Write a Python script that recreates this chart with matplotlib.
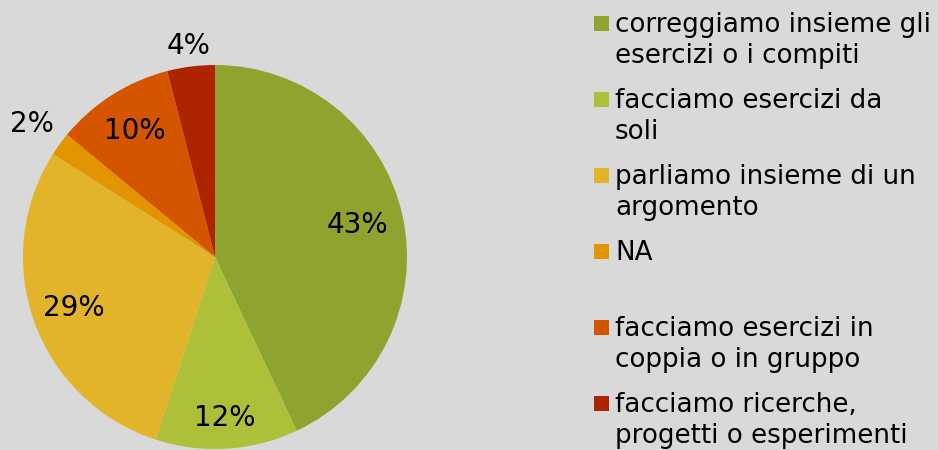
import numpy as np
import matplotlib.pyplot as plt
from matplotlib.patches import Rectangle

labels = ['correggiamo insieme gli\nesercizi o i compiti',
          'facciamo esercizi da\nsoli',
          'parliamo insieme di un\nargomento',
          'NA',
          'facciamo esercizi in\ncoppia o in gruppo',
          'facciamo ricerche,\nprogetti o esperimenti']
values = [43, 12, 29, 2, 10, 4]
colors = ['#8EA42E', '#AEBF39', '#E2B42A', '#E29500', '#D45400', '#AE2300']

W, H = 938, 450
bg = '#D9D9D9'

fig = plt.figure(figsize=(W / 100, H / 100), dpi=100, facecolor=bg)
cx, cy, r = 215, 257, 192
ax = fig.add_axes([(cx - r) / W, (H - cy - r) / H, 2 * r / W, 2 * r / H])
ax.set_facecolor(bg)

wedges, texts, autotexts = ax.pie(values, colors=colors, startangle=90, counterclock=False,
                                  autopct='%d%%', pctdistance=0.78, radius=1,
                                  textprops={'fontsize': 20, 'color': 'black'},
                                  wedgeprops={'linewidth': 0})
# label distance from centre per slice (small ones sit outside)
dist = [0.76, 0.84, 0.78, 1.18, 0.78, 1.11]
for w, t, d in zip(wedges, autotexts, dist):
    ang = np.deg2rad((w.theta1 + w.theta2) / 2)
    t.set_position((d * np.cos(ang), d * np.sin(ang)))
ax.set_xlim(-1, 1)
ax.set_ylim(-1, 1)
ax.set_aspect('equal')
ax.axis('off')

# legend drawn by hand so the marker sits on the first line
base = 32
for i, (lab, c) in enumerate(zip(labels, colors)):
    b = base + i * 76
    fig.add_artist(Rectangle((594 / W, 1 - (b - 1) / H), 15 / W, 15 / H,
                             transform=fig.transFigure, facecolor=c, edgecolor='none'))
    for j, line in enumerate(lab.split('\n')):
        fig.text(615 / W, 1 - (b + j * 31) / H, line, fontsize=18.8, va='baseline', ha='left')

fig.savefig('out.png', dpi=100, facecolor=bg)
